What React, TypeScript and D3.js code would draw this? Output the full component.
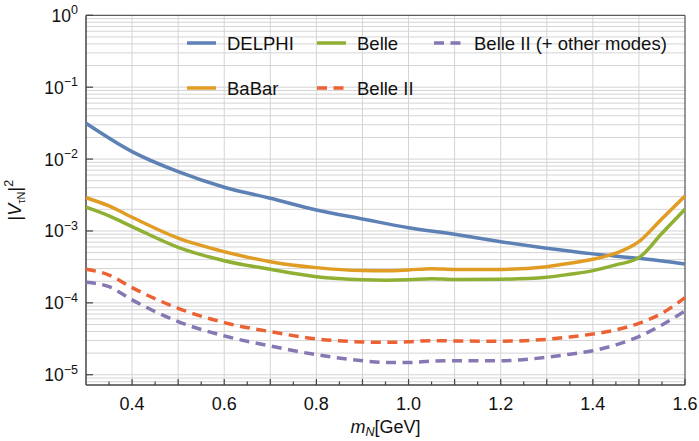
import React from 'react';
import * as d3 from 'd3';

// sample masses (GeV)
const massDelphi = [0.3, 0.4, 0.5, 0.6, 0.7, 0.8, 0.9, 1.0, 1.1, 1.2, 1.3, 1.4, 1.5, 1.6];
const delphi = [0.0315, 0.0127, 0.00668, 0.00406, 0.00285, 0.00196, 0.00147, 0.00111, 0.0009, 0.00071, 0.000575, 0.00048, 0.000416, 0.000348];

const massB = [0.3, 0.35, 0.4, 0.5, 0.6, 0.7, 0.8, 0.9, 0.95, 1.0, 1.05, 1.1, 1.2, 1.3, 1.35, 1.4, 1.45, 1.5, 1.55, 1.6];
const babar = [0.0029, 0.00223, 0.00155, 0.000794, 0.000515, 0.000374, 0.000309, 0.000281, 0.000279, 0.000287, 0.000299, 0.000292, 0.000292, 0.000319, 0.000355, 0.000404, 0.00049, 0.00071, 0.00148, 0.00307];
const belle = [0.00214, 0.00162, 0.00115, 0.000593, 0.000386, 0.000293, 0.000231, 0.000209, 0.000206, 0.000209, 0.000217, 0.000211, 0.000213, 0.000227, 0.00025, 0.000281, 0.000337, 0.000426, 0.00093, 0.002];
const belle2 = [0.000293, 0.000244, 0.000163, 0.0000841, 0.0000531, 0.0000398, 0.0000315, 0.0000286, 0.0000282, 0.0000288, 0.0000298, 0.0000295, 0.0000293, 0.0000311, 0.0000335, 0.0000369, 0.000042, 0.000052, 0.0000716, 0.000118];
const belle2other = [0.000193, 0.000168, 0.00011, 0.0000549, 0.0000347, 0.0000251, 0.000019, 0.0000157, 0.0000148, 0.0000148, 0.0000155, 0.0000157, 0.0000157, 0.0000175, 0.0000193, 0.0000216, 0.000026, 0.0000339, 0.0000493, 0.0000771];

const xTicks = [0.4, 0.6, 0.8, 1.0, 1.2, 1.4, 1.6];
const yExponents = [0, -1, -2, -3, -4, -5];

const W = 699, H = 441;
const left = 86, right = 685, top = 15.3, bottom = 385;

const x = d3.scaleLinear().domain([0.3, 1.6]).range([left, right]);
const y = d3.scaleLog().domain([7.2e-6, 1]).range([bottom, top]);

const font = 'Liberation Sans, Arial, Helvetica, sans-serif';

const series = [
  { name: 'DELPHI', xs: massDelphi, ys: delphi, color: '#5E81B5', dash: null },
  { name: 'BaBar', xs: massB, ys: babar, color: '#E19C24', dash: null },
  { name: 'Belle', xs: massB, ys: belle, color: '#8FB032', dash: null },
  { name: 'Belle II', xs: massB, ys: belle2, color: '#EB6235', dash: '10,6.5' },
  { name: 'Belle II (+ other modes)', xs: massB, ys: belle2other, color: '#8778B3', dash: '10,6.5' },
];

// legend placement (column x, row y)
const legendPos: Record<string, [number, number]> = {
  'DELPHI': [187, 43],
  'Belle': [317, 43],
  'Belle II (+ other modes)': [434, 43],
  'BaBar': [187, 88],
  'Belle II': [317, 88],
};

const App = () => {
  const line = d3.line<[number, number]>()
    .x(d => x(d[0]))
    .y(d => y(d[1]))
    .curve(d3.curveMonotoneX);

  // grid values
  const hGrid: number[] = [];
  for (let k = -6; k <= -1; k++) {
    for (let m = 1; m <= 9; m++) {
      const v = m * Math.pow(10, k);
      if (v > 7.2e-6 && v < 1) hGrid.push(v);
    }
  }
  const vGrid = d3.range(4, 16).map(i => i / 10);
  const minorX = d3.range(7, 33).map(i => i / 20);

  return (
    <svg width={W} height={H} style={{ position: 'absolute', left: 0, top: 0 }} fontFamily={font}>
      <rect width={W} height={H} fill="#fff" />
      <g stroke="#d4d4d4" strokeWidth={1}>
        {hGrid.map((v, i) => (
          <line key={'h' + i} x1={left} x2={right} y1={y(v)} y2={y(v)} />
        ))}
        {vGrid.map((v, i) => (
          <line key={'v' + i} x1={x(v)} x2={x(v)} y1={top} y2={bottom} />
        ))}
      </g>

      {/* frame */}
      <line x1={left} x2={right} y1={top} y2={top} stroke="#333" strokeWidth={1} />
      <line x1={right} x2={right} y1={top} y2={bottom} stroke="#333" strokeWidth={1} />
      <line x1={left} x2={left} y1={top} y2={bottom} stroke="#444" strokeWidth={1.5} />
      <line x1={left} x2={right} y1={bottom} y2={bottom} stroke="#444" strokeWidth={1.5} />

      {/* x ticks */}
      {minorX.map((v, i) => {
        const major = Math.abs(v * 10 - Math.round(v * 10)) < 1e-6;
        return (
          <line key={'xt' + i} x1={x(v)} x2={x(v)} y1={bottom} y2={bottom - (major ? 6 : 3.5)} stroke="#444" strokeWidth={1.2} />
        );
      })}
      {xTicks.map((v, i) => (
        <text key={'xl' + i} x={x(v)} y={bottom + 25} fontSize={18} textAnchor="middle" fill="#111">
          {v.toFixed(1)}
        </text>
      ))}

      {/* y ticks */}
      {yExponents.map((e, i) => (
        <g key={'yt' + i}>
          <line x1={left} x2={left + 7} y1={y(Math.pow(10, e))} y2={y(Math.pow(10, e))} stroke="#444" strokeWidth={1.2} />
          <text x={78} y={y(Math.pow(10, e)) + 6.5} fontSize={17.5} textAnchor="end" fill="#111">
            10
            <tspan fontSize={12.5} dy={-7.5}>{e === 0 ? '0' : '\u2212' + Math.abs(e)}</tspan>
          </text>
        </g>
      ))}

      {/* series */}
      <g fill="none" strokeWidth={3.5}>
        {series.map(s => (
          <path
            key={s.name}
            d={line(s.xs.map((m, i) => [m, s.ys[i]] as [number, number])) || ''}
            stroke={s.color}
            strokeDasharray={s.dash || undefined}
          />
        ))}
      </g>

      {/* legend */}
      {series.map(s => {
        const [lx, ly] = legendPos[s.name];
        return (
          <g key={'lg' + s.name}>
            <line x1={lx} x2={lx + 29} y1={ly} y2={ly} stroke={s.color} strokeWidth={3.5} strokeDasharray={s.dash || undefined} />
            <text x={lx + 40} y={ly + 6.5} fontSize={18.5} fill="#111">{s.name}</text>
          </g>
        );
      })}

      {/* axis titles */}
      <text x={(left + right) / 2} y={433} fontSize={18} textAnchor="middle" fill="#111">
        <tspan fontStyle="italic">m</tspan>
        <tspan fontStyle="italic" fontSize={12.5} dy={3}>N</tspan>
        <tspan dy={-3}>[GeV]</tspan>
      </text>
      <text transform={`translate(21, ${(top + bottom) / 2}) rotate(-90)`} fontSize={18} textAnchor="middle" fill="#111">
        |<tspan fontStyle="italic">V</tspan>
        <tspan fontSize={11} dy={4}>τN</tspan>
        <tspan dy={-4}>|</tspan>
        <tspan fontSize={12.5} dy={-8}>2</tspan>
      </text>
    </svg>
  );
};

export default App;
